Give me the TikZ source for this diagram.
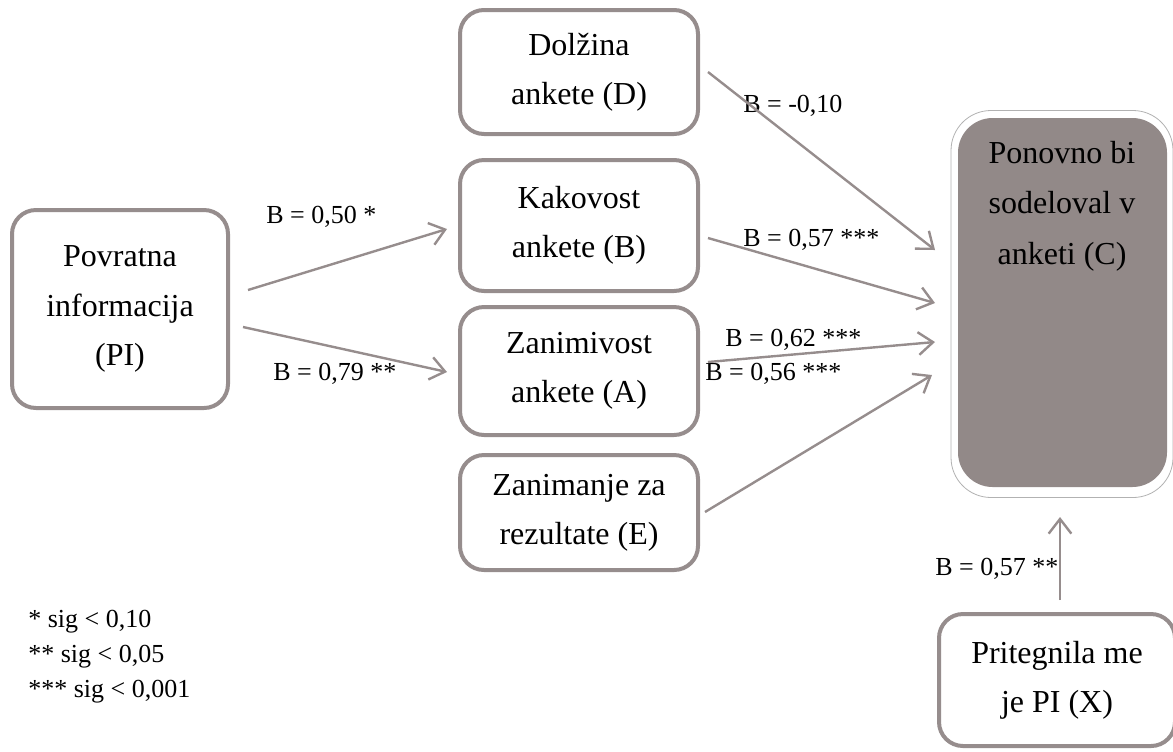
\documentclass[tikz,border=0pt]{standalone}
\usepackage{fontspec}
\setmainfont{Liberation Serif}
\usetikzlibrary{arrows.meta}
\definecolor{boxgray}{RGB}{150,141,141}
\definecolor{cfill}{RGB}{146,137,136}
\begin{document}
\begin{tikzpicture}[x=0.75pt,y=-0.75pt,
  box/.style={draw=boxgray, line width=3pt, rounded corners=18pt, fill=white,
    inner sep=0pt, align=center, font=\fontsize{24}{37}\selectfont},
  cshadow/.style={draw=black!30, line width=0.6pt, fill=white, rounded corners=30pt, inner sep=0pt},
  cbox/.style={fill=cfill, rounded corners=26pt, inner sep=0pt},
  ctext/.style={align=center, inner sep=0pt, font=\fontsize{24}{38}\selectfont},
  lbl/.style={font=\fontsize{19.5}{24}\selectfont, inner sep=0pt, anchor=base west},
  arr/.style={draw=boxgray, line width=1.8pt, -{Straight Barb[length=11pt,width=17pt]}}]
\useasboundingbox (0,0) rectangle (1173,751);

% boxes
\node[box, minimum width=162pt, minimum height=148.5pt] (PI) at (120,309) {Povratna\\informacija\\(PI)};
\node[box, minimum width=178.5pt, minimum height=93pt] (D) at (579,72) {Dolžina\\ankete (D)};
\node[box, minimum width=178.5pt, minimum height=98.25pt] (B) at (579,225.5) {Kakovost\\ankete (B)};
\node[box, minimum width=178.5pt, minimum height=96pt] (A) at (579,371) {Zanimivost\\ankete (A)};
\node[box, minimum width=178.5pt, minimum height=86.25pt] (E) at (579,512.5) {Zanimanje za\\rezultate (E)};
\node[box, minimum width=177pt, minimum height=99pt] (X) at (1057,680) {Pritegnila me\\je PI (X)};

% C box
\node[cshadow, minimum width=166.5pt, minimum height=290.25pt] (Cs) at (1062,304) {};
\node[cbox, minimum width=156.75pt, minimum height=276.75pt] (C) at (1062.5,302.5) {};
\node[ctext] (Ct) at (1062,206) {Ponovno bi\\sodeloval v\\anketi (C)};

% labels
\node[lbl] (l1) at (266,223) {B = 0,50 *};
\node[lbl] (l2) at (273,380) {B = 0,79 **};
\node[lbl] (l3) at (743,112) {B = -0,10};
\node[lbl] (l4) at (743,246) {B = 0,57 ***};
\node[lbl] (l5) at (725,346) {B = 0,62 ***};
\node[lbl] (l6) at (705,380) {B = 0,56 ***};
\node[lbl] (l7) at (935,575) {B = 0,57 **};

% legend
\node[lbl] (g1) at (28,627) {* sig < 0,10};
\node[lbl] (g2) at (28,662) {** sig < 0,05};
\node[lbl] (g3) at (28,697) {*** sig < 0,001};

% connector end points
\coordinate (pib) at (248,290);
\coordinate (bin) at (447,229);
\coordinate (pia) at (243,327);
\coordinate (ain) at (447,372);
\coordinate (dout) at (708,72);
\coordinate (cd) at (935,250);
\coordinate (bout) at (708,238);
\coordinate (cb) at (935,303);
\coordinate (aout) at (708,362);
\coordinate (ca) at (935,342);
\coordinate (eout) at (705,512);
\coordinate (ce) at (932,375);
\coordinate (xout) at (1060,600);
\coordinate (cx) at (1060,517);

\draw[arr] (pib) -- (bin);
\draw[arr] (pia) -- (ain);
\draw[arr] (dout) -- (cd);
\draw[arr] (bout) -- (cb);
\draw[arr] (aout) -- (ca);
\draw[arr] (eout) -- (ce);
\draw[arr] (xout) -- (cx);
\end{tikzpicture}
\end{document}
